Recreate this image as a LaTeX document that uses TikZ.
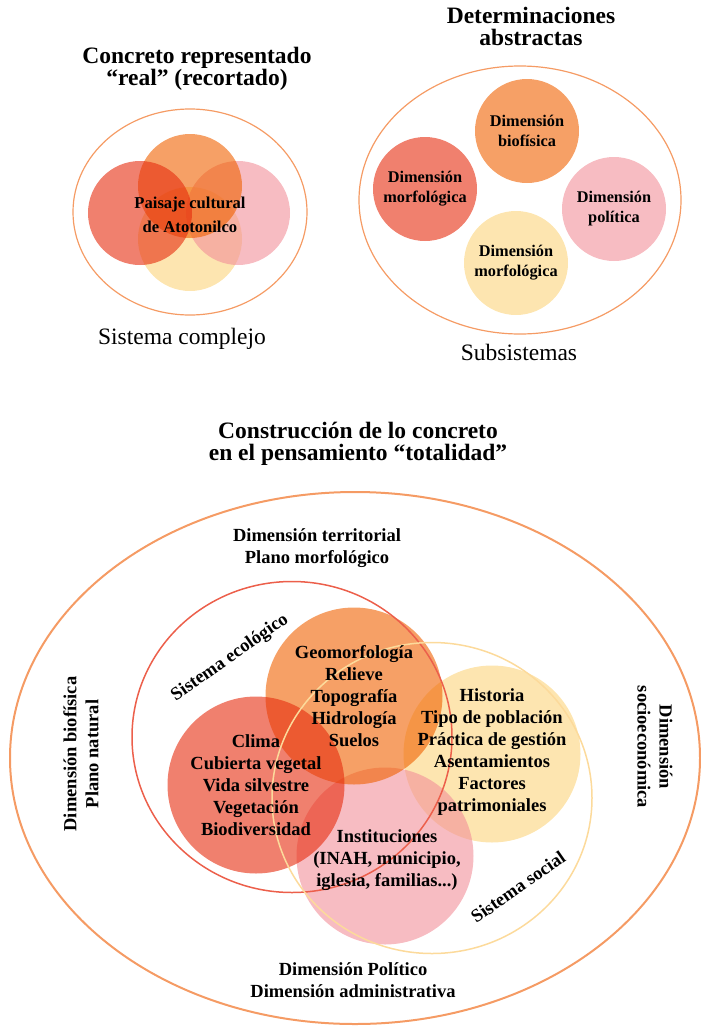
\documentclass[tikz,border=0pt]{standalone}
\usepackage{fontspec}
\setmainfont{Liberation Serif}
\usepackage{tikz}
\usetikzlibrary{calc,positioning,shapes}
\definecolor{rojo}{RGB}{230,43,13}
\definecolor{naranja}{RGB}{240,97,0}
\definecolor{rosa}{RGB}{242,143,153}
\definecolor{amarillo}{RGB}{252,212,123}
\definecolor{lineanar}{RGB}{245,155,100}
\definecolor{linearoj}{RGB}{236,95,75}
\definecolor{lineaama}{RGB}{252,218,155}

\begin{document}
\begin{tikzpicture}[x=1pt, y=-1pt]
\tikzstyle{venn}=[circle, inner sep=0pt, outer sep=0pt, fill opacity=.6, text opacity=1]
\tikzstyle{chico}=[venn, minimum size=104pt]
\tikzstyle{grande}=[venn, minimum size=177pt]
\tikzstyle{marco}=[ellipse, draw=lineanar, line width=1.2pt, inner sep=0pt]
\tikzstyle{contorno}=[ellipse, line width=1.5pt, inner sep=0pt,
                      minimum width=320pt, minimum height=311pt]
\tikzstyle{titulo}=[align=center, font=\fontsize{23.5}{22}\selectfont\bfseries]
\tikzstyle{rotulo}=[align=center, font=\fontsize{23.5}{26}\selectfont]
\tikzstyle{texto}=[align=center, font=\fontsize{18.5}{22}\selectfont\bfseries]
\tikzstyle{dim}=[align=center, font=\fontsize{16.3}{20}\selectfont\bfseries]
\useasboundingbox (0,0) rectangle (701,1028);

\node[titulo] (t1) at (197,69) {Concreto representado\\“real” (recortado)};
\node[marco, minimum width=234pt, minimum height=206pt] (real) at (190,212) {};
\node[chico, fill=amarillo] (c4) at (190,239) {};
\node[chico, fill=rosa] (c3) at (238,213) {};
\node[chico, fill=naranja] (c2) at (190,186) {};
\node[chico, fill=rojo] (c1) at (140,213) {};
\node[dim, font=\fontsize{16.6}{24}\selectfont\bfseries] (paisaje) at (190,215)
     {Paisaje cultural\\de Atotonilco};
\node[rotulo] (comp) at (182,339) {Sistema complejo};

\node[titulo] (t2) at (531,26) {Determinaciones\\abstractas};
\node[marco, minimum width=322pt, minimum height=268pt] (abst) at (520,200) {};
\node[chico, dim, fill=naranja] (bio) at (527,131) {Dimensión\\biofísica};
\node[chico, dim, fill=rojo] (morf) at (425,189) {Dimensión\\morfológica};
\node[chico, dim, fill=rosa] (pol) at (614,209) {Dimensión\\política};
\node[chico, dim, fill=amarillo] (morf2) at (516,263) {Dimensión\\morfológica};
\node[rotulo] (sub) at (519,352) {Subsistemas};

\node[titulo] (t3) at (358,444) {Construcción de lo concreto\\en el pensamiento “totalidad”};
\node[marco, line width=2pt, minimum width=690pt, minimum height=532pt] (total) at (355,758) {};
\node[texto] (terr) at (317,548) {Dimensión territorial\\Plano morfológico};
\node[grande, fill=amarillo] (hist) at (492,754) {};
\node[grande, fill=rosa] (inst) at (385,856) {};
\node[grande, fill=naranja] (geo) at (354,696) {};
\node[grande, fill=rojo] (clima) at (256,785) {};
\node[contorno, draw=linearoj] (eco) at (292,737) {};
\node[contorno, draw=lineaama] (soc) at (432,798) {};
\node[texto] (geoT) at (geo) {Geomorfología\\Relieve\\Topografía\\Hidrología\\Suelos};
\node[texto] (climaT) at (clima) {Clima\\Cubierta vegetal\\Vida silvestre\\Vegetación\\Biodiversidad};
\node[texto] (histT) at (492,752) {Historia\\Tipo de población\\Práctica de gestión\\Asentamientos\\Factores\\patrimoniales};
\node[texto] (instT) at (387,860) {Instituciones\\(INAH, municipio,\\iglesia, familias...)};
\node[texto, rotate=35] (ecoT) at (230,658) {Sistema ecológico};
\node[texto, rotate=35] (socT) at (518,887) {Sistema social};
\node[texto, rotate=90] (bioT) at (81,754) {Dimensión biofísica\\Plano natural};
\node[texto, rotate=-90] (socioT) at (655,747) {Dimensión\\socioeconómica};
\node[texto] (polT) at (353,980) {Dimensión Político\\Dimensión administrativa};
\end{tikzpicture}
\end{document}
